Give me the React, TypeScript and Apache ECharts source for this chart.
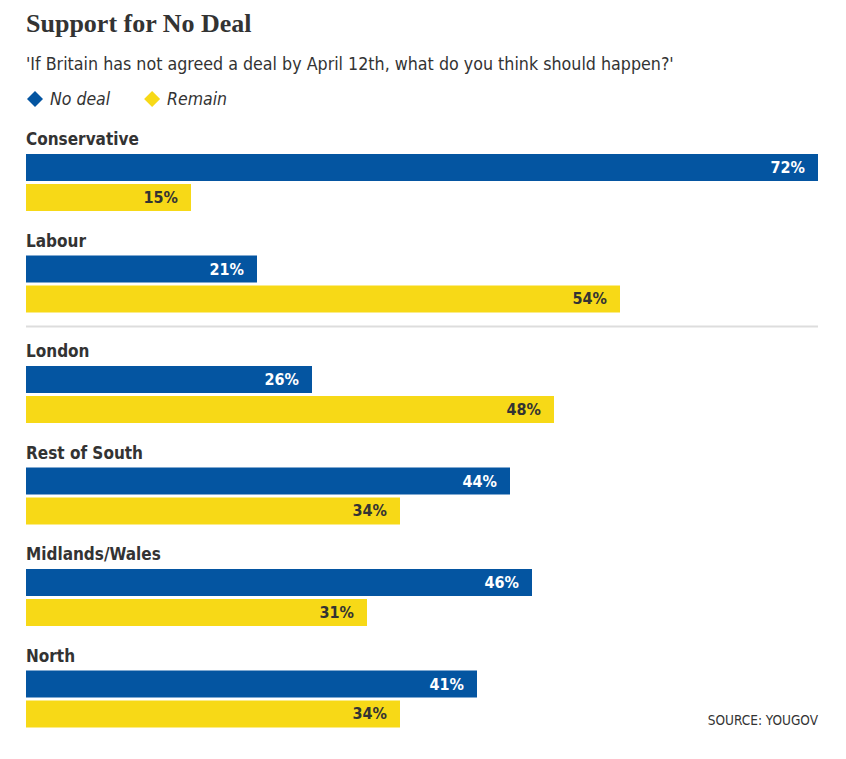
import React, { useEffect, useRef } from "react";
import * as echarts from "echarts";

const categories = ["Conservative", "Labour", "London", "Rest of South", "Midlands/Wales", "North"];
const noDeal = [72, 21, 26, 44, 46, 41];
const remain = [15, 54, 48, 34, 31, 34];
const seriesNames = ["No deal", "Remain"];
const titleText = "Support for No Deal";
const subtitleText = "'If Britain has not agreed a deal by April 12th, what do you think should happen?'";
const sourceText = "SOURCE: YOUGOV";

const BLUE = "#0455a1";
const YELLOW = "#f7d917";
const SANS = "'Liberation Sans Narrow', 'DejaVu Sans Condensed', 'Roboto', sans-serif";
const SERIF = "'Liberation Serif', 'DejaVu Serif', serif";

export default function App() {
  const ref = useRef<HTMLDivElement>(null);
  useEffect(() => {
    if (!ref.current) return;
    const chart = echarts.init(ref.current, null, { renderer: "svg" });
    const left = 26;
    const right = 28;
    const barH = 27;
    const gap = 3;
    const tops = categories.map((_, i) => 154 + i * 101.5 + (i >= 2 ? 9 : 0));

    const grids = tops.map((t) => ({ left, right, top: t, height: barH * 2 + gap }));
    const xAxes = tops.map((_, i) => ({
      type: "value", gridIndex: i, min: 0, max: 72, show: false,
    }));
    const yAxes = tops.map((_, i) => ({
      type: "category", gridIndex: i, data: [categories[i]], inverse: true, show: false,
    }));
    const series: any[] = [];
    tops.forEach((_, i) => {
      series.push({
        type: "bar", name: seriesNames[0], xAxisIndex: i, yAxisIndex: i,
        data: [noDeal[i]], barWidth: barH, barGap: (gap / barH * 100).toFixed(1) + "%",
        barCategoryGap: 0,
        itemStyle: { color: BLUE },
        label: {
          show: true, position: "insideRight", distance: 13, formatter: "{c}%",
          color: "#ffffff", fontFamily: SANS, fontWeight: "bold", fontSize: 16,
        },
      });
      series.push({
        type: "bar", name: seriesNames[1], xAxisIndex: i, yAxisIndex: i,
        data: [remain[i]], barWidth: barH,
        itemStyle: { color: YELLOW },
        label: {
          show: true, position: "insideRight", distance: 13, formatter: "{c}%",
          color: "#333333", fontFamily: SANS, fontWeight: "bold", fontSize: 16,
        },
      });
    });

    const graphics: any[] = [
      {
        type: "text", left: 26, top: 10,
        style: { text: titleText, font: `bold 26px ${SERIF}`, fill: "#333333" },
      },
      {
        type: "text", left: 26, top: 55,
        style: { text: subtitleText, font: `17.7px ${SANS}`, fill: "#333333" },
      },
      {
        type: "line", shape: { x1: 26, y1: 326.5, x2: 818, y2: 326.5 },
        style: { stroke: "#dddddd", lineWidth: 2 },
      },
      {
        type: "text", right: 28, top: 713,
        style: { text: sourceText, font: `13.5px ${SANS}`, fill: "#333333" },
      },
    ];
    categories.forEach((c, i) => {
      graphics.push({
        type: "text", x: 26, y: tops[i] - 15,
        style: { text: c, font: `bold 17px ${SANS}`, fill: "#333333", verticalAlign: "middle" },
      });
    });

    chart.setOption({
      animation: false,
      legend: {
        data: seriesNames.map((n) => ({ name: n, icon: "diamond" })),
        left: 22, top: 85, itemWidth: 16, itemHeight: 16, itemGap: 34,
        selectedMode: false,
        textStyle: { fontFamily: SANS, fontStyle: "italic", fontSize: 17.5, color: "#333333", padding: [0, 0, 0, 2] },
      },
      grid: grids,
      xAxis: xAxes,
      yAxis: yAxes,
      series,
      graphic: graphics,
    });
    return () => chart.dispose();
  }, []);
  return <div ref={ref} style={{ position: "absolute", left: 0, top: 0, width: 846, height: 759, background: "#fff" }} />;
}
